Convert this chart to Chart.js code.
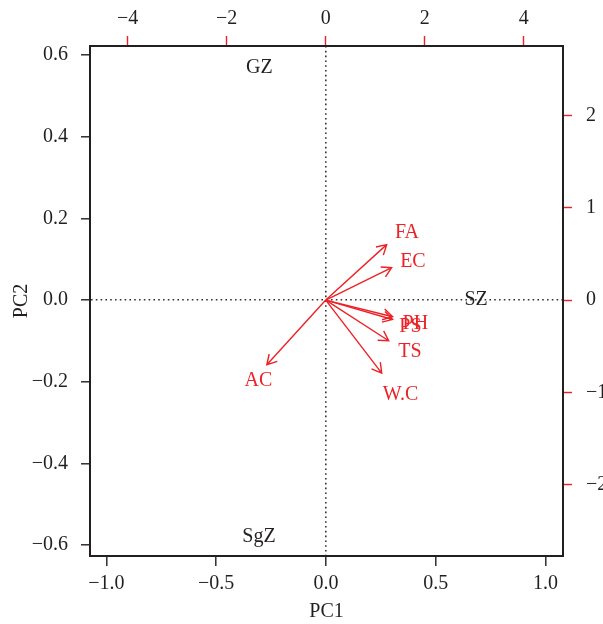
<!DOCTYPE html>
<html>
<head>
<meta charset="utf-8">
<script src="https://cdn.jsdelivr.net/npm/chart.js@4.4.1/dist/chart.umd.min.js"></script>
<style>
  body { margin: 0; background: #fff; }
</style>
</head>
<body>
<canvas id="biplot" width="603" height="624"></canvas>
<script>
// sample scores (bottom / left axes)
const scoreNames = ['GZ', 'SgZ', 'SZ'];
const scorePC1 = [-0.303, -0.305, 0.684];
const scorePC2 = [0.569, -0.581, 0.0];

// variable loadings (top / right axes): label spots and arrow tips
const varNames = ['FA', 'EC', 'PH', 'PS', 'TS', 'W.C', 'AC'];
const labelX = [1.64, 1.76, 1.81, 1.71, 1.70, 1.51, -1.36];
const labelY = [0.73, 0.42, -0.26, -0.29, -0.56, -1.02, -0.87];
const arrowX = [1.23, 1.33, 1.35, 1.35, 1.27, 1.13, -1.19];
const arrowY = [0.60, 0.35, -0.18, -0.21, -0.44, -0.79, -0.70];

const pc1Ticks = [-1, -0.5, 0, 0.5, 1];
const pc2Ticks = [-0.6, -0.4, -0.2, 0, 0.2, 0.4, 0.6];
const topTicks = [-4, -2, 0, 2, 4];
const rightTicks = [-2, -1, 0, 1, 2];

const red = '#ec2227';
const ink = '#231f20';
const serif = '"Liberation Serif", "DejaVu Serif", serif';

const minus = s => String(s).replace('-', '\u2212');
const setTicks = arr => scale => { scale.ticks = arr.map(v => ({ value: v })); };

const biplotPlugin = {
    id: 'biplot',
    afterDatasetsDraw(chart) {
        const ctx = chart.ctx;
        const x2 = chart.scales.x2, y2 = chart.scales.y2;
        ctx.save();
        ctx.font = '20px ' + serif;
        ctx.textAlign = 'center';
        ctx.textBaseline = 'middle';

        // score labels
        ctx.fillStyle = ink;
        chart.getDatasetMeta(0).data.forEach((pt, i) => {
            ctx.fillText(scoreNames[i], pt.x, pt.y);
        });

        // arrows from the origin of the loading axes
        const ox = x2.getPixelForValue(0);
        const oy = y2.getPixelForValue(0);
        ctx.strokeStyle = red;
        ctx.lineWidth = 1.4;
        chart.getDatasetMeta(2).data.forEach(pt => {
            const a = Math.atan2(pt.y - oy, pt.x - ox);
            const len = 11;
            ctx.beginPath();
            ctx.moveTo(ox, oy);
            ctx.lineTo(pt.x, pt.y);
            ctx.moveTo(pt.x - len * Math.cos(a - Math.PI / 6), pt.y - len * Math.sin(a - Math.PI / 6));
            ctx.lineTo(pt.x, pt.y);
            ctx.lineTo(pt.x - len * Math.cos(a + Math.PI / 6), pt.y - len * Math.sin(a + Math.PI / 6));
            ctx.stroke();
        });

        // variable labels
        ctx.fillStyle = red;
        chart.getDatasetMeta(1).data.forEach((pt, i) => {
            ctx.fillText(varNames[i], pt.x, pt.y);
        });
        ctx.restore();
    }
};

const zeroGrid = c => c.tick && c.tick.value === 0 ? '#333' : 'rgba(0,0,0,0)';

new Chart(document.getElementById('biplot'), {
    type: 'scatter',
    data: {
        datasets: [
            {
                label: 'scores',
                data: scorePC1.map((v, i) => ({ x: v, y: scorePC2[i] })),
                xAxisID: 'x', yAxisID: 'y',
                pointRadius: 0
            },
            {
                label: 'labels',
                data: labelX.map((v, i) => ({ x: v, y: labelY[i] })),
                xAxisID: 'x2', yAxisID: 'y2',
                pointRadius: 0
            },
            {
                label: 'arrows',
                data: arrowX.map((v, i) => ({ x: v, y: arrowY[i] })),
                xAxisID: 'x2', yAxisID: 'y2',
                pointRadius: 0
            }
        ]
    },
    options: {
        responsive: false,
        animation: false,
        layout: { padding: 0 },
        plugins: {
            legend: { display: false },
            tooltip: { enabled: false }
        },
        scales: {
            x: {
                type: 'linear', position: 'bottom',
                min: -1.075, max: 1.08,
                afterBuildTicks: setTicks(pc1Ticks),
                afterFit: s => { s.height = 68; },
                grid: { color: zeroGrid, lineWidth: 1.6, tickColor: ink, tickLength: 10, tickWidth: 1.4 },
                border: { color: ink, width: 2, dash: [1.6, 3.2] },
                ticks: {
                    color: ink, padding: 6, maxRotation: 0, autoSkip: false,
                    font: { family: serif, size: 20 },
                    callback: v => minus(v.toFixed(1))
                },
                title: { display: true, text: 'PC1', color: ink, padding: 0, font: { family: serif, size: 20 } }
            },
            y: {
                type: 'linear', position: 'left',
                min: -0.627, max: 0.6225,
                afterBuildTicks: setTicks(pc2Ticks),
                afterFit: s => { s.width = 90; },
                grid: { color: zeroGrid, lineWidth: 1.6, tickColor: ink, tickLength: 9, tickWidth: 1.4 },
                border: { color: ink, width: 2, dash: [1.6, 3.2] },
                ticks: {
                    color: ink, padding: 13, autoSkip: false,
                    font: { family: serif, size: 20 },
                    callback: v => minus(v.toFixed(1))
                },
                title: { display: true, text: 'PC2', color: ink, padding: 10, font: { family: serif, size: 20 } }
            },
            x2: {
                type: 'linear', position: 'top',
                min: -4.76, max: 4.79,
                afterBuildTicks: setTicks(topTicks),
                afterFit: s => { s.height = 46; },
                grid: { drawOnChartArea: false, tickColor: red, tickLength: 10, tickWidth: 1.4 },
                border: { color: ink, width: 2 },
                ticks: {
                    color: ink, padding: 5, maxRotation: 0, autoSkip: false,
                    font: { family: serif, size: 20 },
                    callback: v => minus(v)
                }
            },
            y2: {
                type: 'linear', position: 'right',
                min: -2.77, max: 2.75,
                afterBuildTicks: setTicks(rightTicks),
                afterFit: s => { s.width = 40; },
                grid: { drawOnChartArea: false, tickColor: red, tickLength: 9, tickWidth: 1.4 },
                border: { color: ink, width: 2 },
                ticks: {
                    color: ink, padding: 14, autoSkip: false,
                    font: { family: serif, size: 20 },
                    callback: v => minus(v)
                }
            }
        }
    },
    plugins: [biplotPlugin]
});
</script>
</body>
</html>
